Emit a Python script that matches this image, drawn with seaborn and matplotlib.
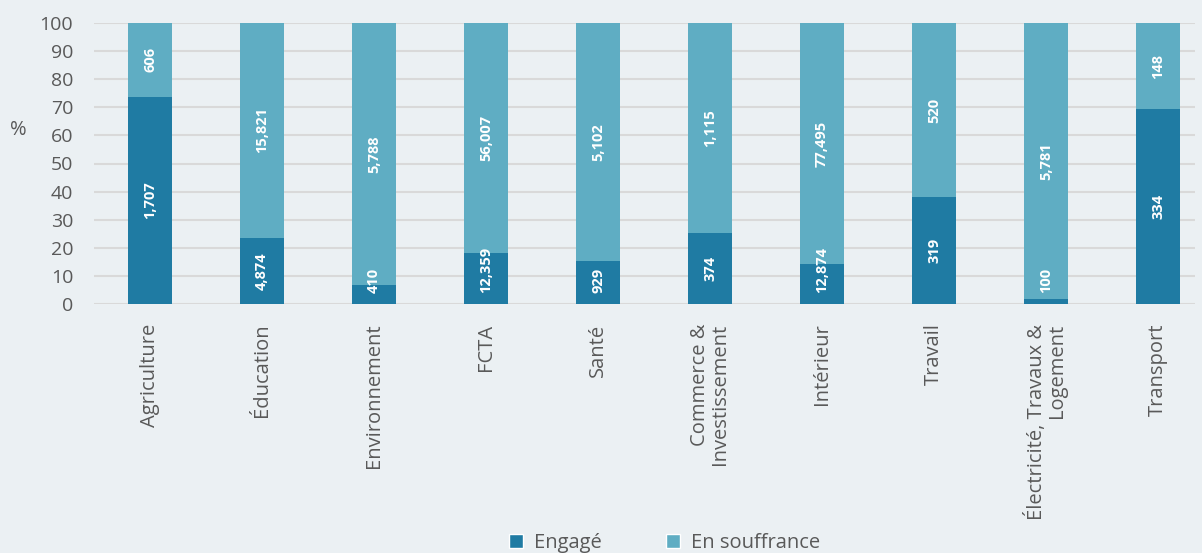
import matplotlib
matplotlib.use("Agg")
import matplotlib.pyplot as plt
import seaborn as sns
import pandas as pd
import numpy as np
from matplotlib.patches import Patch

categories = ["Agriculture", "Éducation", "Environnement", "FCTA", "Santé",
              "Commerce &\nInvestissement", "Intérieur", "Travail",
              "Électricité, Travaux &\nLogement", "Transport"]
engage = [1707, 4874, 410, 12359, 929, 374, 12874, 319, 100, 334]
souffrance = [606, 15821, 5788, 56007, 5102, 1115, 77495, 520, 5781, 148]

DARK = "#1F7BA3"
LIGHT = "#5FADC3"
BG = "#EBF0F3"
GRID = "#D9D9D9"
TXT = "#595959"

sns.set_theme(style="white")
plt.rcParams["font.family"] = ["Open Sans", "DejaVu Sans"]

total = np.array(engage) + np.array(souffrance)
pct_eng = np.array(engage) / total * 100
df = pd.DataFrame({"cat": categories, "eng": pct_eng, "tot": 100.0})

fig = plt.figure(figsize=(12.02, 5.53), dpi=100, facecolor=BG)
ax = fig.add_axes([94 / 1202, 249 / 553, 1101 / 1202, 281 / 553])
ax.set_facecolor(BG)

sns.barplot(data=df, x="cat", y="tot", color=LIGHT, width=0.4,
            saturation=1, linewidth=0, ax=ax, zorder=3)
sns.barplot(data=df, x="cat", y="eng", color=DARK, width=0.4,
            saturation=1, linewidth=0, ax=ax, zorder=3)

ax.set_ylim(0, 100)
ax.set_xlim(-0.5, 9.33)
ax.set_yticks(range(0, 101, 10))
ax.yaxis.grid(True, color=GRID, linewidth=1.5, zorder=0)
ax.set_axisbelow(True)
for sp in ax.spines.values():
    sp.set_visible(False)

ax.tick_params(axis="y", length=0, pad=15, labelsize=14, labelcolor=TXT)
ax.tick_params(axis="x", length=0, pad=14, labelsize=14.5, labelcolor=TXT)
ax.set_xticks(range(len(categories)))
ax.set_xticklabels(categories, rotation=90, ha="center", va="top",
                   multialignment="right", linespacing=0.95)
ax.set_xlabel("")
ax.set_ylabel("%", rotation=0, fontsize=14.5, color=TXT, va="center")
ax.yaxis.set_label_coords(-0.069, 0.619)

# value labels, centred in each segment but kept clear of the baseline
labels = []
for i, (e, s, p) in enumerate(zip(engage, souffrance, pct_eng)):
    t_e = ax.text(i, p / 2, f"{e:,}", rotation=90, ha="center", va="center",
                  color="white", fontsize=10.5, fontweight="bold", zorder=4)
    ax.text(i, p + (100 - p) / 2, f"{s:,}", rotation=90, ha="center",
            va="center", color="white", fontsize=10.5, fontweight="bold",
            zorder=4)
    labels.append((t_e, i, p / 2))

fig.canvas.draw()
renderer = fig.canvas.get_renderer()
px_per_pct = ax.transData.transform((0, 1))[1] - ax.transData.transform((0, 0))[1]
min_bottom = 3.9
for t, i, mid in labels:
    bb = t.get_window_extent(renderer)
    half = bb.height / 2 / px_per_pct
    if mid - half < min_bottom:
        t.set_position((i, min_bottom + half))

handles = [Patch(facecolor=DARK, label="Engagé"),
           Patch(facecolor=LIGHT, label="En souffrance")]
fig.legend(handles=handles, loc="center", bbox_to_anchor=(0.553, 0.018),
           ncol=2, frameon=False, fontsize=14.5, labelcolor=TXT,
           handlelength=0.7, handleheight=0.7, handletextpad=0.55,
           columnspacing=3.2)

fig.savefig("out.png", dpi=100, facecolor=BG)
